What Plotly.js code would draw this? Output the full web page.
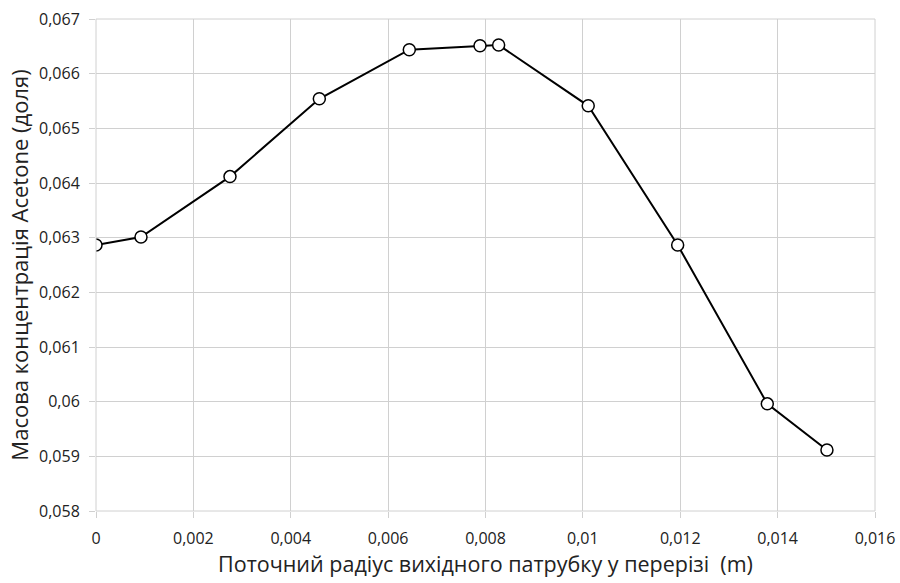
<!DOCTYPE html>
<html>
<head>
<meta charset="utf-8">
<script src="https://cdn.plot.ly/plotly-3.0.1.min.js"></script>
<style>html,body{margin:0;padding:0;background:#fff;}#chart{width:900px;height:583px;}</style>
</head>
<body>
<div id="chart"></div>
<script>
const radius = [0, 0.000924, 0.002752, 0.004587, 0.006435, 0.007887, 0.00827, 0.01011, 0.011947, 0.013788, 0.015013];
const concentration = [0.062866, 0.063013, 0.064117, 0.06554, 0.066438, 0.066511, 0.066524, 0.065412, 0.062866, 0.05996, 0.059117];
const xTickVals = [0, 0.002, 0.004, 0.006, 0.008, 0.010, 0.012, 0.014, 0.016];
const xTickText = ["0", "0,002", "0,004", "0,006", "0,008", "0,01", "0,012", "0,014", "0,016"];
const yTickVals = [0.058, 0.059, 0.060, 0.061, 0.062, 0.063, 0.064, 0.065, 0.066, 0.067];
const yTickText = ["0,058", "0,059", "0,06", "0,061", "0,062", "0,063", "0,064", "0,065", "0,066", "0,067"];

const trace = {
  x: radius, y: concentration, type: 'scatter', mode: 'lines+markers',
  line: {color: '#000', width: 2},
  marker: {symbol: 'circle', size: 12, color: '#fff', line: {color: '#000', width: 1.5}},
  showlegend: false, hoverinfo: 'skip'
};
const layout = {
  width: 900, height: 583,
  margin: {l: 96, r: 25, t: 19, b: 72},
  paper_bgcolor: '#fff', plot_bgcolor: '#fff',
  font: {family: 'Open Sans, sans-serif', color: '#222'},
  separators: ', ',
  xaxis: {
    range: [0, 0.016], tickvals: xTickVals, ticktext: xTickText,
    showgrid: true, gridcolor: '#d0d0d0', gridwidth: 1,
    zeroline: false, showline: false,
    ticks: 'outside', ticklen: 6, tickcolor: '#d0d0d0',
    ticklabelstandoff: 7,
    tickfont: {size: 16, color: '#222'},
    title: {text: 'Поточний радіус вихідного патрубку у перерізі  (m)', font: {size: 21.5, color: '#222'}, standoff: 8}
  },
  yaxis: {
    range: [0.058, 0.067], tickvals: yTickVals, ticktext: yTickText,
    showgrid: true, gridcolor: '#d0d0d0', gridwidth: 1,
    zeroline: false, showline: false,
    ticks: 'outside', ticklen: 6, tickcolor: '#d0d0d0',
    ticklabelstandoff: 6,
    tickfont: {size: 16, color: '#222'},
    title: {text: 'Масова концентрація Acetone (доля)', font: {size: 22, color: '#222'}, standoff: 4}
  },
  shapes: [{type: 'rect', xref: 'paper', yref: 'paper', x0: 0, x1: 1, y0: 0, y1: 1, line: {color: '#d0d0d0', width: 1}}]
};
Plotly.newPlot('chart', [trace], layout, {displayModeBar: false, staticPlot: true});
</script>
</body>
</html>
